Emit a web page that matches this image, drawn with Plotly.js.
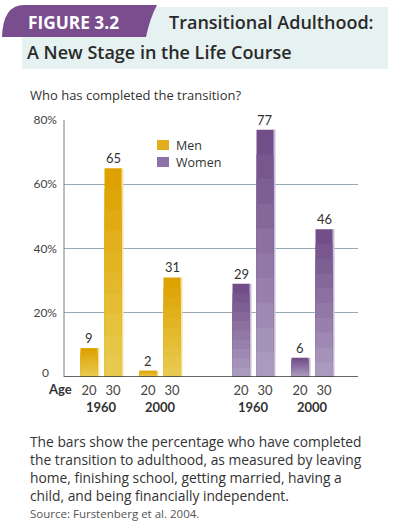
<!DOCTYPE html>
<html>
<head>
<meta charset="utf-8">
<script src="https://cdn.plot.ly/plotly-3.0.1.min.js"></script>
<style>
html,body{margin:0;padding:0;background:#fff;}
#chart{width:394px;height:526px;}
</style>
</head>
<body>
<div id="chart"></div>
<script>
// ---- data ----
const groups = ["Men", "Women"];
const years = ["1960", "2000"];
const ages = ["20", "30"];
const menValues = [9, 65, 2, 31];     // 1960/20, 1960/30, 2000/20, 2000/30
const womenValues = [29, 77, 6, 46];  // 1960/20, 1960/30, 2000/20, 2000/30
const yTickVals = [0, 20, 40, 60, 80];
const yTickText = ["0", "20%", "40%", "60%", "80%"];
const titleTab = "FIGURE 3.2";
const titleLine1 = "Transitional Adulthood:";
const titleLine2 = "A New Stage in the Life Course";
const subtitle = "Who has completed the transition?";
const captionLines = [
  "The bars show the percentage who have completed",
  "the transition to adulthood, as measured by leaving",
  "home, finishing school, getting married, having a",
  "child, and being financially independent."
];
const sourceText = "Source: Furstenberg et al. 2004.";

// ---- layout geometry ----
const W = 394, H = 526;
const M = {l: 64, r: 36, t: 120, b: 149};
const PW = W - M.l - M.r, PH = H - M.t - M.b;
const px = x => (x - M.l) / PW;          // pixel -> paper x
const py = y => (H - M.b - y) / PH;      // pixel -> paper y
const pos = (g, yi, ai) => 25 + g * 152 + yi * 59 + ai * 24;

const FONT = "'Open Sans', sans-serif";
const FONT2 = "Lato, 'Open Sans', sans-serif";

const palettes = {
  Men:   {top: [222, 162, 0],   bottom: [232, 202, 80],  edge: "#f3e3a0", legend: "#e2ae1c"},
  Women: {top: [114, 78, 136],  bottom: [170, 154, 190], edge: "#c9bcd8", legend: "#8c72a6"}
};
const mix = (a, b, t) => "rgb(" + a.map((v, i) => Math.round(v + (b[i] - v) * t)).join(",") + ")";

const traces = [];
const annotations = [];
const shapes = [];
const tickVals = [], tickText = [];
const STEPS = 10;

groups.forEach((g, gi) => {
  const vals = gi === 0 ? menValues : womenValues;
  const pal = palettes[g];
  const xs = [], ys = [];
  years.forEach((yr, yi) => {
    ages.forEach((a, ai) => {
      const x = pos(gi, yi, ai);
      xs.push(x); ys.push(vals[yi * 2 + ai]);
      tickVals.push(x); tickText.push(a);
    });
  });
  // edge highlight
  traces.push({type: "bar", x: xs.map(x => x + 9), y: ys, width: 3,
    marker: {color: pal.edge, line: {width: 0}}, showlegend: false, hoverinfo: "skip"});
  // gradient layers (full bar first, shorter lighter layers on top)
  for (let s = 0; s < STEPS; s++) {
    const frac = 1 - s / STEPS;
    traces.push({type: "bar", x: xs, y: ys.map(v => v * frac), width: 17,
      marker: {color: mix(pal.top, pal.bottom, s / (STEPS - 1)), line: {width: 0}},
      showlegend: false, hoverinfo: "skip"});
  }
  // value labels
  xs.forEach((x, i) => {
    annotations.push({x: x, y: ys[i], xref: "x", yref: "y", text: String(ys[i]),
      showarrow: false, yanchor: "bottom", yshift: 1, bgcolor: "#ffffff", borderpad: 0,
      font: {family: FONT2, size: 13, color: "#333"}});
  });
  // year labels
  years.forEach((yr, yi) => {
    const cx = (pos(gi, yi, 0) + pos(gi, yi, 1)) / 2;
    annotations.push({x: cx, xref: "x", y: py(407), yref: "paper", text: "<b>" + yr + "</b>",
      showarrow: false, xanchor: "center", yanchor: "middle",
      font: {family: FONT2, size: 13, color: "#333"}});
  });
  // manual legend
  const ly = 145 + gi * 17;
  shapes.push({type: "rect", xref: "paper", yref: "paper",
    x0: px(157), x1: px(169), y0: py(ly - 5), y1: py(ly + 5),
    fillcolor: pal.legend, line: {width: 0}});
  annotations.push({x: px(174), y: py(ly), xref: "paper", yref: "paper", text: g,
    showarrow: false, xanchor: "left", yanchor: "middle",
    font: {family: FONT, size: 12.5, color: "#333"}});
});

annotations.push({x: px(60), y: py(389), xref: "paper", yref: "paper", text: "<b>Age</b>",
  showarrow: false, xanchor: "center", yanchor: "middle",
  font: {family: FONT2, size: 13, color: "#333"}});
annotations.push({x: px(45), y: py(372), xref: "paper", yref: "paper", text: yTickText[0],
  showarrow: false, xanchor: "center", yanchor: "middle",
  font: {family: FONT2, size: 12, color: "#444"}});

// header texts
annotations.push({x: px(26), y: py(22), xref: "paper", yref: "paper", text: "<b>" + titleTab + "</b>",
  showarrow: false, xanchor: "left", yanchor: "middle",
  font: {family: FONT, size: 17.3, color: "#ffffff"}});
annotations.push({x: px(167), y: py(22), xref: "paper", yref: "paper", text: titleLine1,
  showarrow: false, xanchor: "left", yanchor: "middle",
  font: {family: FONT, size: 18, color: "#2a2a2a", weight: 600}});
annotations.push({x: px(25), y: py(52), xref: "paper", yref: "paper", text: titleLine2,
  showarrow: false, xanchor: "left", yanchor: "middle",
  font: {family: FONT, size: 18, color: "#2a2a2a", weight: 600}});
annotations.push({x: px(28), y: py(95), xref: "paper", yref: "paper", text: subtitle,
  showarrow: false, xanchor: "left", yanchor: "middle",
  font: {family: FONT, size: 13, color: "#333"}});
annotations.push({x: px(28), y: py(430), xref: "paper", yref: "paper", text: captionLines.join("<br>"),
  showarrow: false, xanchor: "left", yanchor: "top", align: "left",
  font: {family: FONT, size: 13.8, color: "#333"}});
annotations.push({x: px(28), y: py(513), xref: "paper", yref: "paper", text: sourceText,
  showarrow: false, xanchor: "left", yanchor: "middle",
  font: {family: FONT, size: 11.5, color: "#555"}});

// header shapes
const tabPath = "M " + px(2) + "," + py(37) +
  " Q " + px(3) + "," + py(5) + " " + px(24) + "," + py(5) +
  " L " + px(157) + "," + py(5) +
  " Q " + px(150) + "," + py(18) + " " + px(146) + "," + py(37) + " Z";

shapes.push(
  {type: "rect", xref: "paper", yref: "paper", x0: px(22), x1: px(388), y0: py(7), y1: py(69),
    fillcolor: "#e6f1f1", line: {width: 0}, layer: "below"},
  {type: "path", xref: "paper", yref: "paper", path: tabPath,
    fillcolor: "#7a4e8e", line: {width: 0}},
  {type: "line", xref: "paper", yref: "paper", x0: 0, x1: 0, y0: 0, y1: 1,
    line: {color: "#7a7a7a", width: 1}},
  {type: "line", xref: "paper", yref: "y", x0: 0, x1: 1, y0: 0, y1: 0,
    line: {color: "#333", width: 1.5}, layer: "above"}
);

const layout = {
  width: W, height: H,
  margin: M,
  paper_bgcolor: "#ffffff", plot_bgcolor: "#ffffff",
  barmode: "overlay",
  showlegend: false,
  xaxis: {range: [0, PW], tickvals: tickVals, ticktext: tickText, showgrid: false,
    zeroline: false, showline: false, ticks: "", fixedrange: true, ticklabelstandoff: 4,
    tickfont: {family: FONT2, size: 13, color: "#444"}},
  yaxis: {range: [0, 80], tickvals: yTickVals, ticktext: ["", ...yTickText.slice(1)], showgrid: true,
    gridcolor: "#98a9b6", gridwidth: 1, zeroline: false, showline: false, ticks: "",
    fixedrange: true, ticklabelstandoff: 6,
    tickfont: {family: FONT2, size: 12, color: "#444"}},
  annotations: annotations,
  shapes: shapes
};

Plotly.newPlot("chart", traces, layout, {displayModeBar: false, staticPlot: true});
</script>
</body>
</html>
